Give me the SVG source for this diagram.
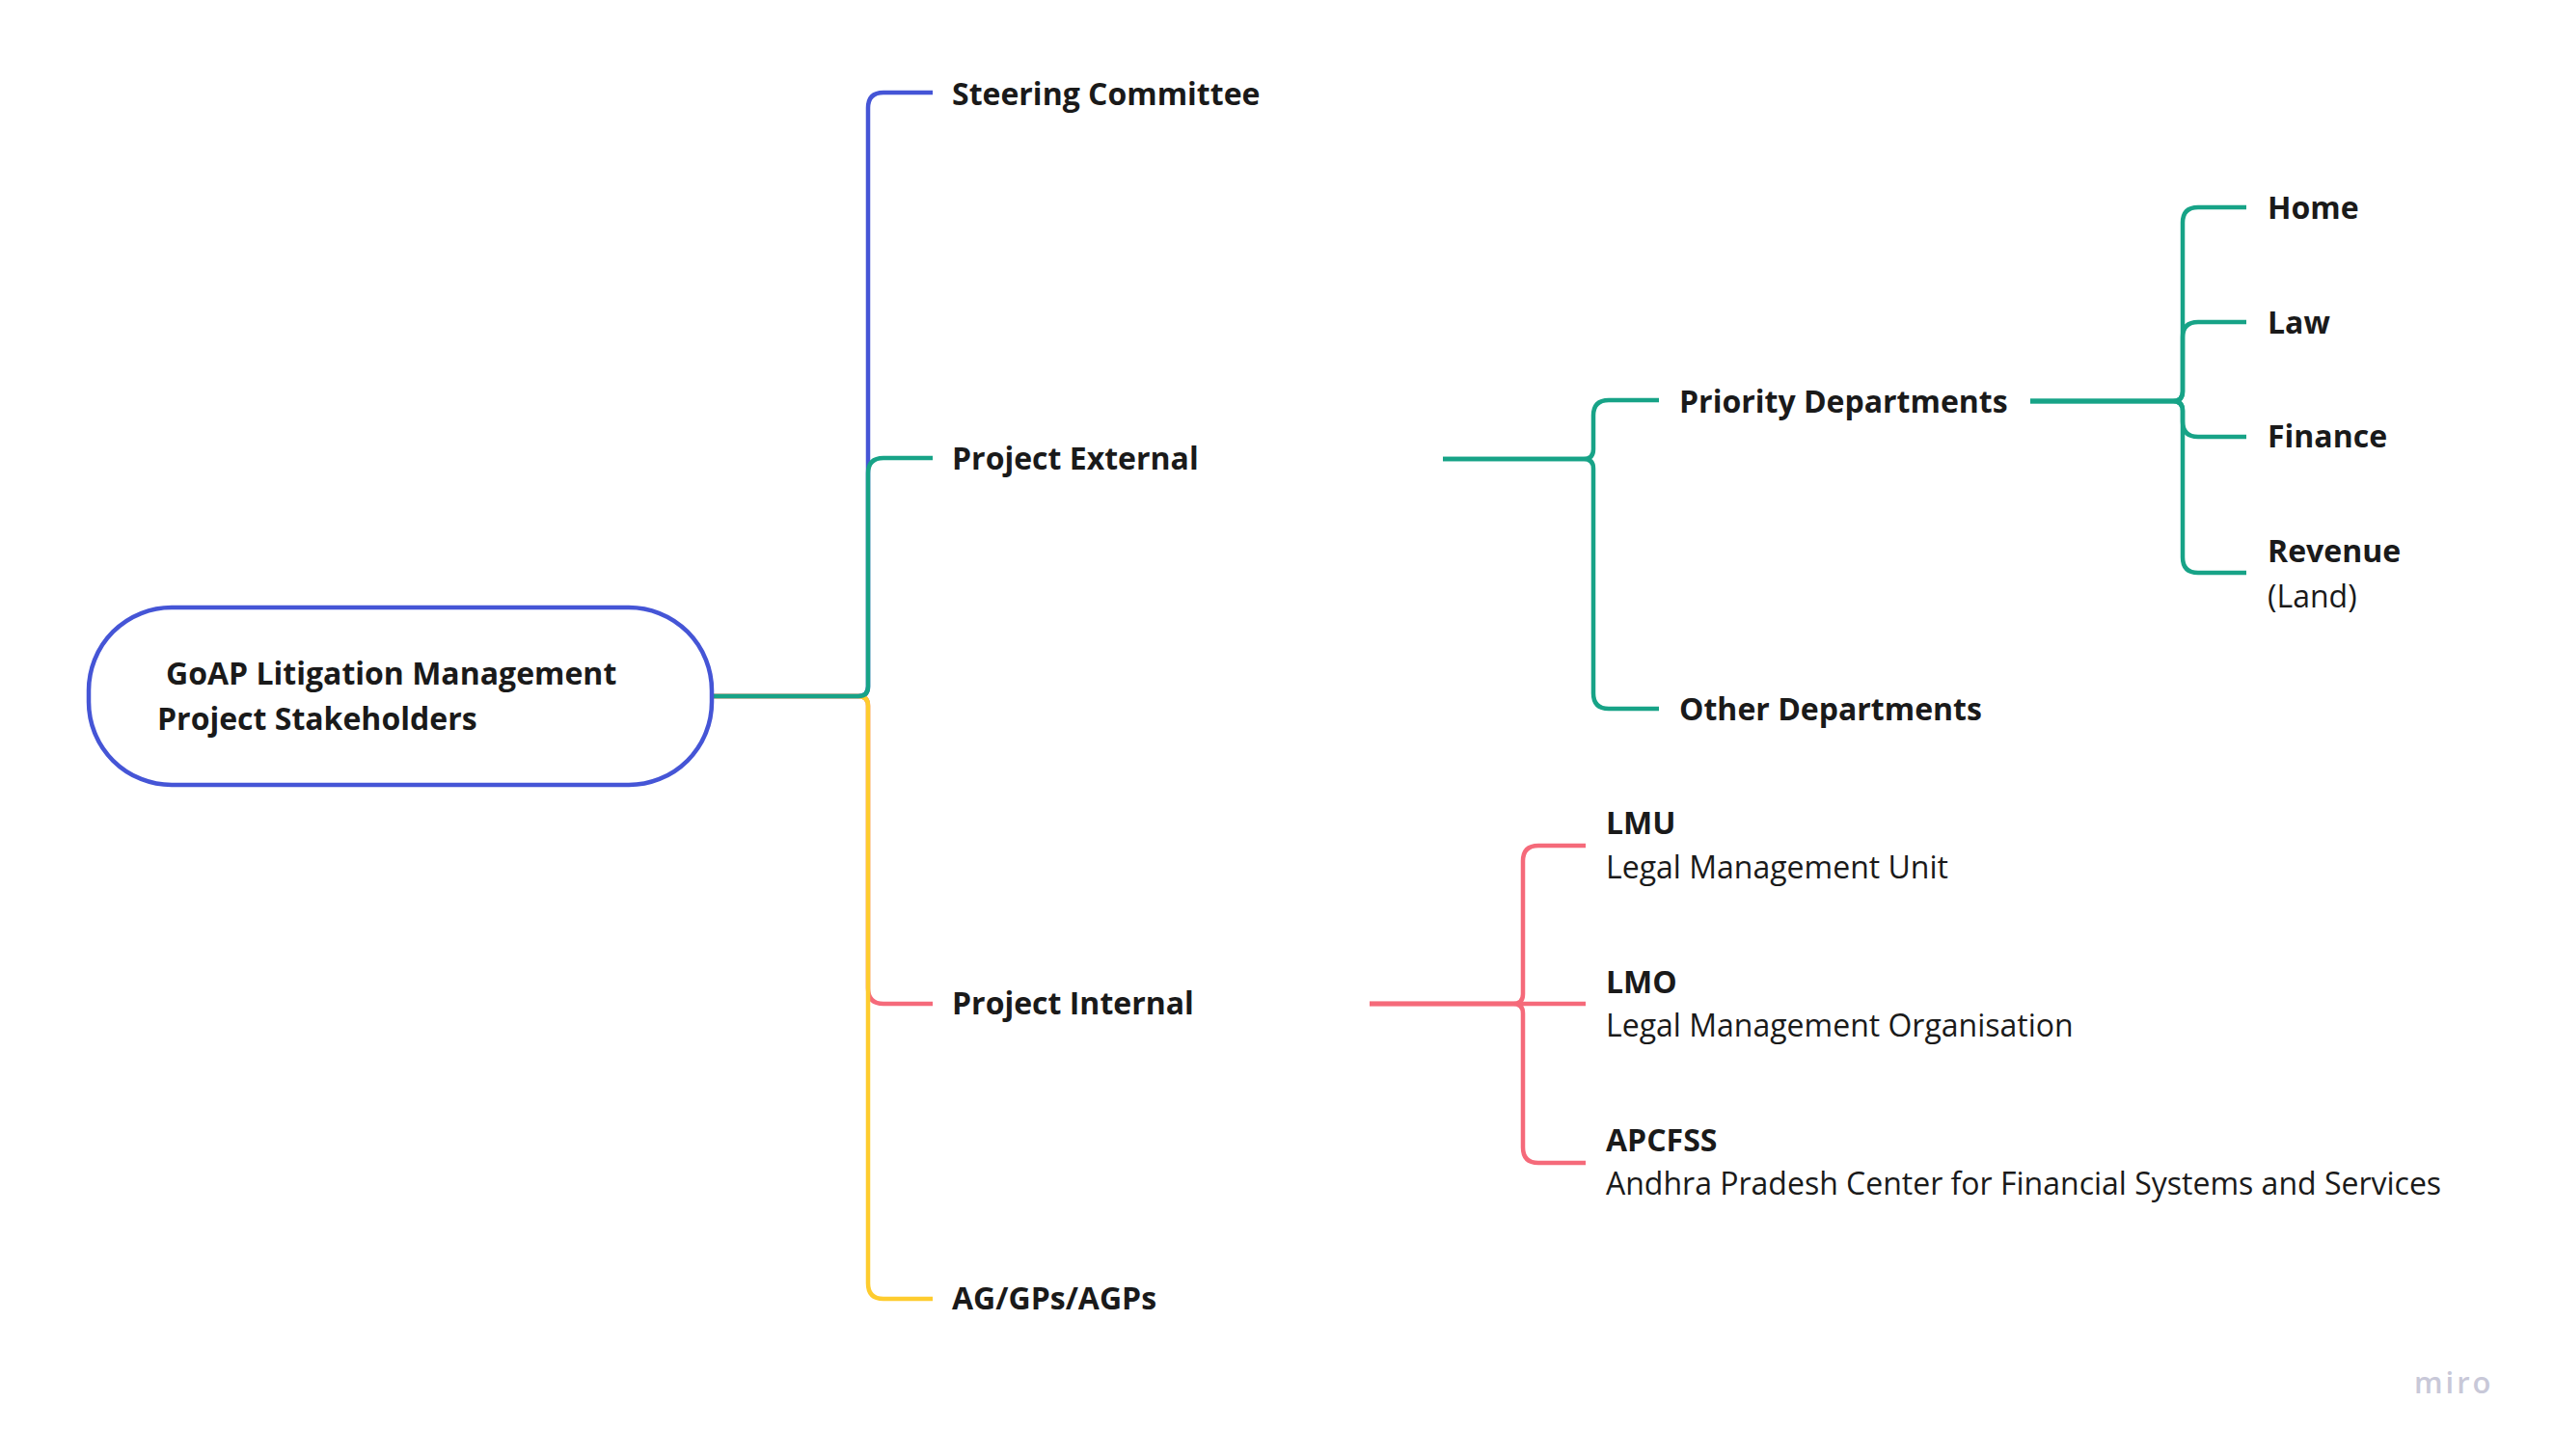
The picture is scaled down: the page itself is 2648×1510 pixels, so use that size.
<svg xmlns="http://www.w3.org/2000/svg" width="2648" height="1510" viewBox="0 0 2648 1510">
<style>
.c{fill:none;stroke-width:4.5;stroke-linecap:butt;stroke-linejoin:round}
.b{stroke:#4555D6}.g{stroke:#17A387}.r{stroke:#F56A7A}.y{stroke:#FECC2E}
text{font-family:"Open Sans","Noto Sans","Liberation Sans",sans-serif;font-size:32px;fill:#1a1a1a}
.t{font-weight:700}
</style>
<rect width="2648" height="1510" fill="#ffffff"/>
<g id="connectors">
<path class="c b" d="M740,722 H890 Q900,722 900,712 V112 Q900,96 916,96 H967"/>
<path class="c r" d="M740,722 H890 Q900,722 900,732 V1025 Q900,1041 916,1041 H967"/>
<path class="c y" d="M740,722 H890 Q900,722 900,732 V1331 Q900,1347 916,1347 H967"/>
<path class="c g" d="M740,722 H890 Q900,722 900,712 V491 Q900,475 916,475 H967"/>
<path class="c g" d="M1496,476 H1642 Q1652,476 1652,466 V431 Q1652,415 1668,415 H1720"/>
<path class="c g" d="M1496,476 H1642 Q1652,476 1652,486 V719 Q1652,735 1668,735 H1720"/>
<path class="c g" d="M2105,416 H2253 Q2263,416 2263,406 V231 Q2263,215 2279,215 H2329"/>
<path class="c g" d="M2105,416 H2253 Q2263,416 2263,406 V350 Q2263,334 2279,334 H2329"/>
<path class="c g" d="M2105,416 H2253 Q2263,416 2263,426 V437 Q2263,453 2279,453 H2329"/>
<path class="c g" d="M2105,416 H2253 Q2263,416 2263,426 V578 Q2263,594 2279,594 H2329"/>
<path class="c r" d="M1420,1041 H1569 Q1579,1041 1579,1031 V893 Q1579,877 1595,877 H1644"/>
<path class="c r" d="M1420,1041 H1644"/>
<path class="c r" d="M1420,1041 H1569 Q1579,1041 1579,1051 V1190 Q1579,1206 1595,1206 H1644"/>
</g>
<g id="root">
<rect x="92" y="630" width="646" height="184" rx="86" ry="86" fill="#ffffff" stroke="#4555D6" stroke-width="4.5"/>
<text class="t" x="172" y="710">GoAP Litigation Management</text>
<text class="t" x="163" y="757">Project Stakeholders</text>
</g>
<g id="steering"><text class="t" x="987" y="109">Steering Committee</text></g>
<g id="external"><text class="t" x="987" y="487">Project External</text></g>
<g id="internal"><text class="t" x="987" y="1052">Project Internal</text></g>
<g id="ag"><text class="t" x="987" y="1358">AG/GPs/AGPs</text></g>
<g id="priority"><text class="t" x="1741" y="428">Priority Departments</text></g>
<g id="other"><text class="t" x="1741" y="747">Other Departments</text></g>
<g id="home"><text class="t" x="2351" y="227">Home</text></g>
<g id="law"><text class="t" x="2351" y="346">Law</text></g>
<g id="finance"><text class="t" x="2351" y="464">Finance</text></g>
<g id="revenue"><text class="t" x="2351" y="583">Revenue</text><text x="2351" y="630">(Land)</text></g>
<g id="lmu"><text class="t" x="1665" y="865">LMU</text><text x="1665" y="911">Legal Management Unit</text></g>
<g id="lmo"><text class="t" x="1665" y="1030">LMO</text><text x="1665" y="1075">Legal Management Organisation</text></g>
<g id="apcfss"><text class="t" x="1665" y="1194">APCFSS</text><text x="1665" y="1239">Andhra Pradesh Center for Financial Systems and Services</text></g>
<text x="2503" y="1445" style="font-size:31px;font-weight:600;fill:#c8c8d8;letter-spacing:3px">miro</text>
</svg>
